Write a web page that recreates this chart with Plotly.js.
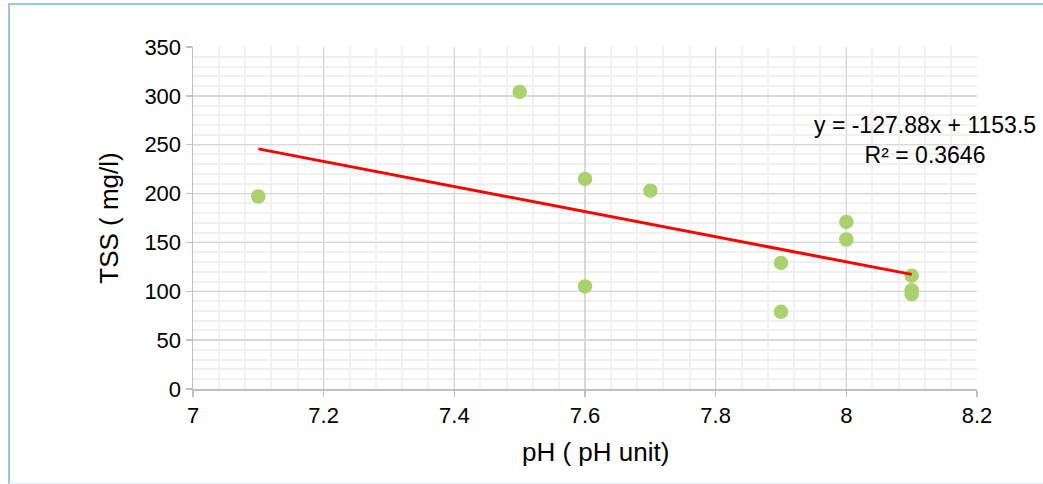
<!DOCTYPE html>
<html>
<head>
<meta charset="utf-8">
<script src="https://cdn.plot.ly/plotly-3.0.1.min.js"></script>
<style>
  html, body { margin: 0; padding: 0; background: #fff; }
  #frame { position: absolute; left: 8px; top: 3px; width: 1100px; height: 478px;
           border-left: 2px solid #9DC3E6; border-top: 2px solid #9DC3E6; border-bottom: 1px solid #DEEBF7; }
  #chart { position: absolute; left: 0; top: 0; width: 1043px; height: 484px; }
</style>
</head>
<body>
<div id="frame"></div>
<div id="chart"></div>
<script>
// Data
const phValues  = [7.1, 7.5, 7.6, 7.6, 7.7, 7.9, 7.9, 8.0, 8.0, 8.1, 8.1, 8.1];
const tssValues = [197, 304, 215, 105, 203, 129, 79, 171, 153, 116, 101, 97];
const xTickVals = [7, 7.2, 7.4, 7.6, 7.8, 8, 8.2];
const xTickText = ["7", "7.2", "7.4", "7.6", "7.8", "8", "8.2"];
const yTickVals = [0, 50, 100, 150, 200, 250, 300, 350];
const trendLabel = "y = -127.88x + 1153.5<br>R² = 0.3646";
const xTitle = "pH ( pH unit)";
const yTitle = "TSS ( mg/l)";

// Least-squares linear trendline computed from the data
const n = phValues.length;
const mx = phValues.reduce((a, b) => a + b, 0) / n;
const my = tssValues.reduce((a, b) => a + b, 0) / n;
let sxy = 0, sxx = 0;
for (let i = 0; i < n; i++) { sxy += (phValues[i] - mx) * (tssValues[i] - my); sxx += (phValues[i] - mx) ** 2; }
const slope = sxy / sxx;
const intercept = my - slope * mx;
const xMin = Math.min(...phValues), xMax = Math.max(...phValues);
const trendX = [xMin, xMax];
const trendY = trendX.map(x => slope * x + intercept);

const font = "Liberation Sans, Arial, sans-serif";

const traces = [
  {
    x: phValues, y: tssValues, type: 'scatter', mode: 'markers',
    marker: { color: '#A9D16E', size: 14.5 },
    cliponaxis: false, hoverinfo: 'x+y'
  },
  {
    x: trendX, y: trendY, type: 'scatter', mode: 'lines',
    line: { color: '#FF0000', width: 3 }, hoverinfo: 'skip'
  }
];

const layout = {
  width: 1043, height: 484,
  margin: { l: 193, r: 66, t: 47, b: 95 },
  paper_bgcolor: 'rgba(0,0,0,0)', plot_bgcolor: '#fff',
  showlegend: false,
  font: { family: font, color: '#000', size: 22 },
  xaxis: {
    range: [7, 8.2], tickmode: 'array', tickvals: xTickVals, ticktext: xTickText,
    showgrid: true, gridcolor: '#D9D9D9', gridwidth: 1.5,
    minor: { dtick: 0.04, tick0: 7, showgrid: true, gridcolor: '#F0F0F0', gridwidth: 2 },
    showline: true, linecolor: '#BFBFBF', linewidth: 1.5,
    ticks: 'outside', ticklen: 6, tickcolor: '#BFBFBF', tickwidth: 1.5,
    zeroline: false, tickfont: { size: 22, family: font }
  },
  yaxis: {
    range: [0, 350], tickmode: 'array', tickvals: yTickVals,
    showgrid: true, gridcolor: '#D9D9D9', gridwidth: 1.5,
    minor: { dtick: 10, tick0: 0, showgrid: true, gridcolor: '#F0F0F0', gridwidth: 2 },
    showline: true, linecolor: '#BFBFBF', linewidth: 1.5,
    ticks: 'outside', ticklen: 6, tickcolor: '#BFBFBF', tickwidth: 1.5,
    zeroline: false, tickfont: { size: 22, family: font },
    title: { text: yTitle, font: { size: 26, family: font }, standoff: 18 }
  },
  annotations: [
    {
      text: xTitle, xref: 'paper', yref: 'paper', x: 0.514, y: -0.184,
      xanchor: 'center', yanchor: 'middle', showarrow: false,
      font: { size: 26, family: font, color: '#000' }
    },
    {
      text: trendLabel, xref: 'x', yref: 'y', x: 8.1205, y: 255,
      xanchor: 'center', yanchor: 'middle', align: 'center', showarrow: false,
      font: { size: 23, family: font, color: '#000' }
    }
  ]
};

Plotly.newPlot('chart', traces, layout, { displayModeBar: false, staticPlot: true });
</script>
</body>
</html>
